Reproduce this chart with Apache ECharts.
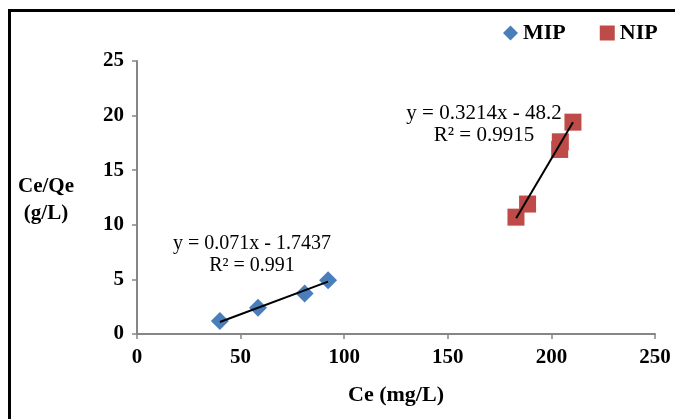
<!DOCTYPE html>
<html>
<head>
    <meta charset="utf-8">
    <script src="https://cdn.jsdelivr.net/npm/echarts@6/dist/echarts.min.js"></script>
</head>
<body style="margin:0">
<div id="main" style="width: 675px; height:419px"></div>
<script type="text/javascript">

    // values
    var mipPoints = [[40, 1.19], [58.4, 2.4], [80.9, 3.71], [92.2, 4.93]];
    var nipPoints = [[182.9, 10.7], [188.5, 11.9], [204, 16.9], [204.3, 17.6], [210.4, 19.4]];
    var mipTrend = [[40, 1.1], [92.2, 4.8]];
    var nipTrend = [[183, 10.6], [210.4, 19.4]];
    var mipEq = ['y = 0.071x - 1.7437', 'R² = 0.991'];
    var nipEq = ['y = 0.3214x - 48.2', 'R² = 0.9915'];

    var serif = '"Liberation Serif", "Times New Roman", serif';
    var axisGray = '#868686';

    var myChart = echarts.init(document.getElementById('main'));
    var option = {
        backgroundColor: '#fff',
        animation: false,
        grid: {left: 137, right: 20, top: 61, bottom: 85},
        legend: {
            left: 498, top: 17, itemWidth: 15, itemHeight: 15, itemGap: 34,
            textStyle: {fontFamily: serif, fontWeight: 'bold', fontSize: 22, color: '#000'},
            data: [{name: 'MIP', icon: 'diamond'}, {name: 'NIP', icon: 'rect'}]
        },
        xAxis: {
            type: 'value', min: 0, max: 250, interval: 50,
            name: 'Ce (mg/L)', nameLocation: 'middle', nameGap: 50,
            nameTextStyle: {fontFamily: serif, fontWeight: 'bold', fontSize: 22, color: '#000'},
            axisLine: {lineStyle: {color: axisGray, width: 2}},
            axisTick: {show: true, length: 5, lineStyle: {color: axisGray, width: 1.5}},
            axisLabel: {fontFamily: serif, fontWeight: 'bold', fontSize: 21, color: '#000', margin: 13},
            splitLine: {show: false}
        },
        yAxis: {
            type: 'value', min: 0, max: 25, interval: 5,
            axisLine: {show: true, lineStyle: {color: axisGray, width: 2}},
            axisTick: {show: true, length: 5, lineStyle: {color: axisGray, width: 1.5}},
            axisLabel: {fontFamily: serif, fontWeight: 'bold', fontSize: 21, color: '#000', margin: 13},
            splitLine: {show: false}
        },
        series: [
            {name: 'MIP', type: 'scatter', symbol: 'diamond', symbolSize: 18, z: 3,
                itemStyle: {color: '#4A7EBB', opacity: 1}, data: mipPoints},
            {name: 'NIP', type: 'scatter', symbol: 'rect', symbolSize: 17, z: 3,
                itemStyle: {color: '#BE4B48', opacity: 1}, data: nipPoints},
            {name: 'mipTrend', type: 'line', symbol: 'none', z: 4,
                lineStyle: {color: '#000', width: 2}, data: mipTrend},
            {name: 'nipTrend', type: 'line', symbol: 'none', z: 4,
                lineStyle: {color: '#000', width: 2}, data: nipTrend}
        ],
        graphic: [
            {type: 'rect', shape: {x: 9.5, y: 10.5, width: 700, height: 450}, silent: true,
                style: {fill: null, stroke: '#000', lineWidth: 3}},
            {type: 'text', x: 46, y: 200, style: {text: 'Ce/Qe\n(g/L)', align: 'center', verticalAlign: 'middle',
                font: 'bold 21px ' + serif, fill: '#000', lineHeight: 27}},
            {type: 'text', x: 252, y: 244, style: {text: mipEq[0], align: 'center', verticalAlign: 'middle',
                font: '20px ' + serif, fill: '#000'}},
            {type: 'text', x: 252, y: 266, style: {text: mipEq[1], align: 'center', verticalAlign: 'middle',
                font: '20px ' + serif, fill: '#000'}},
            {type: 'text', x: 484, y: 113, style: {text: nipEq[0], align: 'center', verticalAlign: 'middle',
                font: '21px ' + serif, fill: '#000'}},
            {type: 'text', x: 484, y: 135, style: {text: nipEq[1], align: 'center', verticalAlign: 'middle',
                font: '21px ' + serif, fill: '#000'}}
        ]
    };
    myChart.setOption(option);
</script>
</body>
</html>
